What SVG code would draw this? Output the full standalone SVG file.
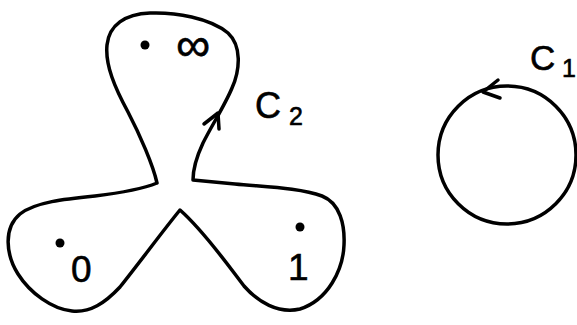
<svg xmlns="http://www.w3.org/2000/svg" width="577" height="325" viewBox="0 0 577 325">
<style>
.ln{fill:none;stroke:#000;stroke-width:3.5;stroke-linecap:round;stroke-linejoin:round}
.t{font-family:"Liberation Sans",Arial,sans-serif;fill:#000;stroke:#000;stroke-width:0.6}
</style>
<rect width="577" height="325" fill="#fff"/>
<g id="connectors">
<path id="c2" class="ln" d="M157,183 C153,165 140,135 128,112 C115,88 105,65 107,45 C109,25 125,14 150,13 C175,12 210,18 228,33 C242,46 240,70 232,88 C225,105 212,125 203,143 C196,158 193,170 193,180 L235,184 C265,187 300,188 322,196 C340,203 345,225 344,245 C343,270 328,300 300,309 C278,314 258,302 244,286 C230,268 205,232 180,210 C165,228 140,262 120,287 C105,303 90,313 72,311 C52,309 30,293 18,274 C6,255 3,228 20,214 C35,202 65,199 95,196 C120,193 140,190 157,183"/>
<path id="c2-arrow" class="ln" d="M204,124 L218,113 L219,129"/>
<circle id="c1" class="ln" cx="507" cy="155" r="69"/>
<path id="c1-arrow" class="ln" d="M498,80 L483,92 L500,98"/>
</g>
<g id="pt-inf"><circle cx="145" cy="45" r="4.5"/><text class="t" x="176" y="61" font-size="48">∞</text></g>
<g id="pt-0"><circle cx="60" cy="243" r="4.5"/><text class="t" x="71" y="282" font-size="37">0</text></g>
<g id="pt-1"><circle cx="300" cy="227" r="4.5"/><text class="t" x="288" y="280" font-size="37">1</text></g>
<g id="lbl-c2"><text class="t" x="255" y="118" font-size="36">C</text><text class="t" x="289" y="125" font-size="25">2</text></g>
<g id="lbl-c1"><text class="t" x="530" y="70" font-size="35">C</text><text class="t" x="562" y="77" font-size="25">1</text></g>
</svg>
